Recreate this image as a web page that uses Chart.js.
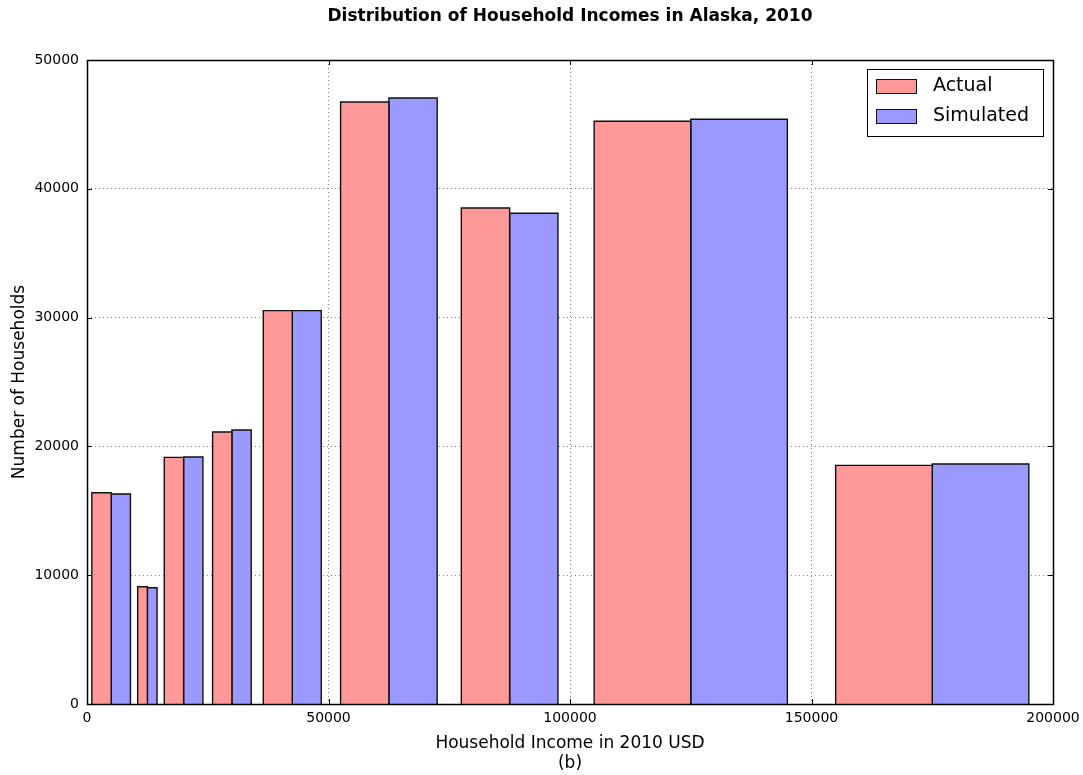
<!DOCTYPE html>
<html>
<head>
<meta charset="utf-8">
<title>Household incomes, Alaska 2010</title>
<script src="https://cdn.jsdelivr.net/npm/chart.js@4.4.1/dist/chart.umd.min.js"></script>
<style>
    html, body { margin: 0; padding: 0; background: #fff; }
    #chart_holder { width: 1083px; height: 775px; }
</style>
</head>
<body>
<div id="chart_holder"><canvas id="income_chart" width="1083" height="775"></canvas></div>
<script>
// income brackets, lower and upper edges in 2010 USD
var bin_edges = [0, 10000, 15000, 25000, 35000, 50000, 75000, 100000, 150000, 200000];
// households per bracket
var actual_households    = [16400, 9100, 19150, 21120, 30540, 46740, 38510, 45240, 18530];
var simulated_households = [16300, 9030, 19180, 21270, 30540, 47050, 38100, 45400, 18630];
var series_names = ["Actual", "Simulated"];
var x_tick_values = [0, 50000, 100000, 150000, 200000];
var y_tick_values = [0, 10000, 20000, 30000, 40000, 50000];

var series_colors = ["#ff9999", "#9999ff"];
var group_fraction = 0.8; // share of each bracket covered by its pair of bars

Chart.defaults.font.family = "'DejaVu Sans', sans-serif";
Chart.defaults.color = "#000";

// each bar is a closed step outline filled down to zero
function build_bar_datasets(){
    var datasets = [];
    var all_values = [actual_households, simulated_households];
    for(var i = 0; i < bin_edges.length - 1; i++){
        var lo = bin_edges[i];
        var width = bin_edges[i + 1] - lo;
        var bar_width = width * group_fraction / 2;
        var start = lo + width * (1 - group_fraction) / 2;
        for(var s = 0; s < all_values.length; s++){
            var x0 = start + s * bar_width;
            var x1 = x0 + bar_width;
            var v = all_values[s][i];
            datasets.push({
                label: series_names[s],
                data: [{x: x0, y: 0}, {x: x0, y: v}, {x: x1, y: v}, {x: x1, y: 0}],
                borderColor: "#111",
                borderWidth: 1.4,
                backgroundColor: series_colors[s],
                fill: "origin",
                tension: 0,
                pointRadius: 0,
                pointHoverRadius: 0
            });
        }
    }
    return datasets;
}

// axes frame, inward tick marks and the boxed legend
var frame_plugin = {
    id: "frame_plugin",
    afterDatasetsDraw: function(chart){
        var ctx = chart.ctx;
        var area = chart.chartArea;
        var xs = chart.scales.x, ys = chart.scales.y;
        var tick_len = 5;
        ctx.save();
        ctx.strokeStyle = "#000";
        ctx.lineWidth = 1;
        ctx.beginPath();
        x_tick_values.forEach(function(v){
            var px = Math.round(xs.getPixelForValue(v)) + 0.5;
            ctx.moveTo(px, area.bottom); ctx.lineTo(px, area.bottom - tick_len);
            ctx.moveTo(px, area.top); ctx.lineTo(px, area.top + tick_len);
        });
        y_tick_values.forEach(function(v){
            var py = Math.round(ys.getPixelForValue(v)) + 0.5;
            ctx.moveTo(area.left, py); ctx.lineTo(area.left + tick_len, py);
            ctx.moveTo(area.right, py); ctx.lineTo(area.right - tick_len, py);
        });
        ctx.stroke();

        ctx.lineWidth = 1.5;
        ctx.strokeRect(Math.round(area.left) + 0.5, Math.round(area.top) + 0.5,
                       Math.round(area.right - area.left), Math.round(area.bottom - area.top));

        // legend box
        var box_w = 176, box_h = 67;
        var bx = area.right - 10 - box_w, by = area.top + 9;
        ctx.fillStyle = "#fff";
        ctx.fillRect(bx, by, box_w, box_h);
        ctx.lineWidth = 1;
        ctx.strokeRect(bx + 0.5, by + 0.5, box_w, box_h);
        ctx.font = "19px 'DejaVu Sans'";
        ctx.textBaseline = "middle";
        for(var s = 0; s < series_names.length; s++){
            var cy = by + 17 + s * 30;
            ctx.fillStyle = series_colors[s];
            ctx.fillRect(bx + 9, cy - 7, 40, 14);
            ctx.strokeStyle = "#111";
            ctx.strokeRect(bx + 9.5, cy - 6.5, 40, 14);
            ctx.fillStyle = "#000";
            ctx.fillText(series_names[s], bx + 66, cy);
        }
        ctx.restore();
    }
};

var the_chart = new Chart(document.getElementById("income_chart").getContext("2d"), {
    type: "line",
    data: { datasets: build_bar_datasets() },
    options: {
        responsive: false,
        animation: false,
        devicePixelRatio: 1,
        events: [],
        layout: { padding: { left: 0, right: 30, top: 0, bottom: 0 } },
        plugins: {
            legend: { display: false },
            tooltip: { enabled: false },
            title: {
                display: true,
                fullSize: false,
                text: "Distribution of Household Incomes in Alaska, 2010",
                font: { size: 17, weight: "bold", lineHeight: 1.2 },
                color: "#000",
                padding: { top: 6, bottom: 33.6 }
            }
        },
        scales: {
            x: {
                type: "linear",
                min: 0,
                max: 200000,
                afterBuildTicks: function(scale){ scale.ticks = x_tick_values.map(function(v){ return {value: v}; }); },
                afterFit: function(scale){
                    scale.height = 71;
                    // end labels may hang past the frame, as they do on the left
                    scale.paddingLeft = 0;
                    scale.paddingRight = 0;
                },
                ticks: {
                    padding: 6,
                    font: { size: 14 },
                    maxRotation: 0,
                    callback: function(v){ return String(v); }
                },
                grid: { color: "#808080", lineWidth: 1, drawTicks: false },
                border: { display: false, dash: [1, 3] },
                title: {
                    display: true,
                    text: ["Household Income in 2010 USD", "(b)"],
                    font: { size: 17, lineHeight: 1.2 },
                    padding: { top: 0, bottom: 1 }
                }
            },
            y: {
                type: "linear",
                min: 0,
                max: 50000,
                afterBuildTicks: function(scale){ scale.ticks = y_tick_values.map(function(v){ return {value: v}; }); },
                afterFit: function(scale){ scale.width = 87; },
                ticks: {
                    padding: 8,
                    font: { size: 14 },
                    callback: function(v){ return String(v); }
                },
                grid: { color: "#808080", lineWidth: 1, drawTicks: false },
                border: { display: false, dash: [1, 3] },
                title: {
                    display: true,
                    text: "Number of Households",
                    font: { size: 17 },
                    padding: { top: 9, bottom: 0 }
                }
            }
        }
    },
    plugins: [frame_plugin]
});
</script>
</body>
</html>
